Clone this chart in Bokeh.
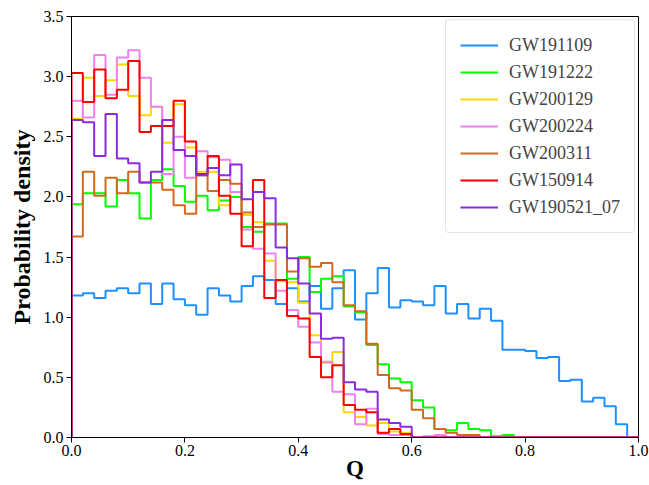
import numpy as np
from bokeh.plotting import figure
from bokeh.models import Legend, LegendItem, FixedTicker, PrintfTickFormatter, Range1d
from bokeh.embed import file_html
from bokeh.resources import INLINE

# ---- data (probability density per bin, 50 bins of width 0.02 on [0, 1]) ----
q_min = 0.0
q_max = 1.0
n_bins = 50

names = ["GW191109", "GW191222", "GW200129", "GW200224", "GW200311", "GW150914", "GW190521_07"]

gw191109 = [1.18, 1.20, 1.16, 1.22, 1.24, 1.20, 1.28, 1.11, 1.28, 1.15,
            1.10, 1.02, 1.24, 1.18, 1.13, 1.26, 1.34, 1.31, 1.11, 1.24,
            1.13, 1.26, 1.07, 1.24, 1.39, 0.98, 1.20, 1.41, 1.08, 1.14,
            1.13, 1.10, 1.26, 1.03, 1.11, 0.99, 1.07, 0.97, 0.73, 0.73,
            0.72, 0.66, 0.67, 0.47, 0.48, 0.30, 0.33, 0.26, 0.11, 0.00]
gw191222 = [1.94, 2.03, 2.03, 1.92, 2.14, 2.03, 1.82, 2.14, 2.23, 2.09,
            1.96, 2.01, 1.89, 1.97, 2.00, 1.75, 1.71, 1.78, 1.78, 1.32,
            1.50, 1.21, 1.32, 1.34, 1.09, 1.04, 0.77, 0.61, 0.49, 0.46,
            0.31, 0.25, 0.07, 0.06, 0.12, 0.07, 0.06, 0.01, 0.02]
gw200129 = [2.65, 2.99, 2.84, 2.97, 3.10, 2.84, 2.68, 2.75, 2.45, 2.77,
            2.41, 2.21, 2.21, 1.93, 2.04, 1.85, 1.79, 1.47, 1.30, 1.29,
            1.12, 0.85, 0.62, 0.71, 0.21, 0.17, 0.10, 0.12, 0.05, 0.04]
gw200224 = [2.80, 2.66, 3.18, 2.85, 3.16, 3.22, 2.99, 2.75, 2.19, 2.50,
            2.16, 2.38, 2.33, 2.31, 2.04, 1.73, 1.57, 1.53, 1.22, 1.06,
            0.92, 0.79, 0.63, 0.38, 0.36, 0.11, 0.24, 0.03, 0.02, 0.02,
            0.00, 0.01, 0.02]
gw200311 = [1.67, 2.21, 2.01, 2.16, 2.03, 2.21, 2.12, 2.12, 2.06, 1.93,
            1.86, 2.18, 2.05, 2.14, 2.11, 1.87, 1.75, 1.77, 1.77, 1.38,
            1.49, 1.42, 1.45, 1.29, 1.10, 1.05, 0.78, 0.52, 0.41, 0.39,
            0.23, 0.16, 0.07, 0.04, 0.02, 0.02]
gw150914 = [3.03, 2.79, 3.06, 2.82, 2.89, 3.13, 2.54, 2.59, 2.59, 2.80,
            2.46, 2.19, 2.34, 2.01, 1.86, 1.59, 2.14, 1.16, 1.31, 1.01,
            0.99, 0.67, 0.50, 0.60, 0.27, 0.23, 0.21, 0.04, 0.07, 0.03]
gw190521_07 = [2.64, 2.62, 2.34, 2.69, 2.32, 2.28, 2.12, 2.21, 2.64, 2.39,
               2.34, 2.18, 2.24, 2.18, 2.27, 1.98, 2.04, 1.99, 1.58, 1.49,
               1.28, 1.03, 0.82, 0.83, 0.46, 0.40, 0.38, 0.15, 0.12, 0.09]

colors = ["#1E90FF", "#00FF00", "#FFD700", "#EE82EE", "#D2691E", "#FF0000", "#8A2BE2"]

x_ticks = [0.0, 0.2, 0.4, 0.6, 0.8, 1.0]
y_ticks = [0.0, 0.5, 1.0, 1.5, 2.0, 2.5, 3.0, 3.5]

series = [gw191109, gw191222, gw200129, gw200224, gw200311, gw150914, gw190521_07]

FONT = "Liberation Serif"

p = figure(width=649, height=485, x_range=Range1d(q_min, q_max), y_range=Range1d(0, 3.5),
           output_backend="svg", toolbar_location=None,
           min_border_left=71, min_border_right=11, min_border_top=16, min_border_bottom=48)
p.xgrid.visible = False
p.ygrid.visible = False
p.outline_line_color = "black"
p.outline_line_width = 1
p.outline_line_alpha = 1.0
p.background_fill_color = "white"
p.border_fill_color = "white"

edges = np.linspace(q_min, q_max, n_bins + 1)
xs = np.repeat(edges, 2)

items = []
for name, vals, col in zip(names, series, colors):
    v = np.zeros(n_bins)
    v[:len(vals)] = vals
    ys = np.concatenate([[0.0], np.repeat(v, 2), [0.0]])
    r = p.line(xs, ys, line_color=col, line_width=2)
    items.append(LegendItem(label=name, renderers=[r]))

legend = Legend(items=items, location="top_right", margin=3,
                label_text_font=FONT, label_text_font_size="18px",
                glyph_width=38, glyph_height=22, label_height=22, spacing=5,
                padding=14, label_standoff=11,
                border_line_color="#cccccc", border_line_width=1,
                background_fill_color="white", background_fill_alpha=0.8)
legend.border_radius = 4
p.add_layout(legend, "center")

for ax in (p.xaxis, p.yaxis):
    ax.major_label_text_font = FONT
    ax.major_label_text_font_size = "16px"
    ax.major_label_text_color = "black"
    ax.axis_label_text_font = FONT
    ax.axis_label_text_font_style = "bold"
    ax.axis_label_text_color = "black"
    ax.major_tick_out = 5
    ax.major_tick_in = 0
    ax.minor_tick_line_color = None
    ax.axis_line_color = "black"
    ax.major_tick_line_color = "black"
    ax.formatter = PrintfTickFormatter(format="%.1f")

p.xaxis.ticker = FixedTicker(ticks=x_ticks)
p.yaxis.ticker = FixedTicker(ticks=y_ticks)
p.xaxis.axis_label = "Q"
p.yaxis.axis_label = "Probability density"
p.xaxis.axis_label_text_font_size = "23px"
p.yaxis.axis_label_text_font_size = "24px"
p.xaxis.axis_label_standoff = -3
p.yaxis.axis_label_standoff = 6
p.xaxis.major_label_standoff = 2
p.yaxis.major_label_standoff = 3

open("out.html", "w").write(file_html(p, INLINE))
